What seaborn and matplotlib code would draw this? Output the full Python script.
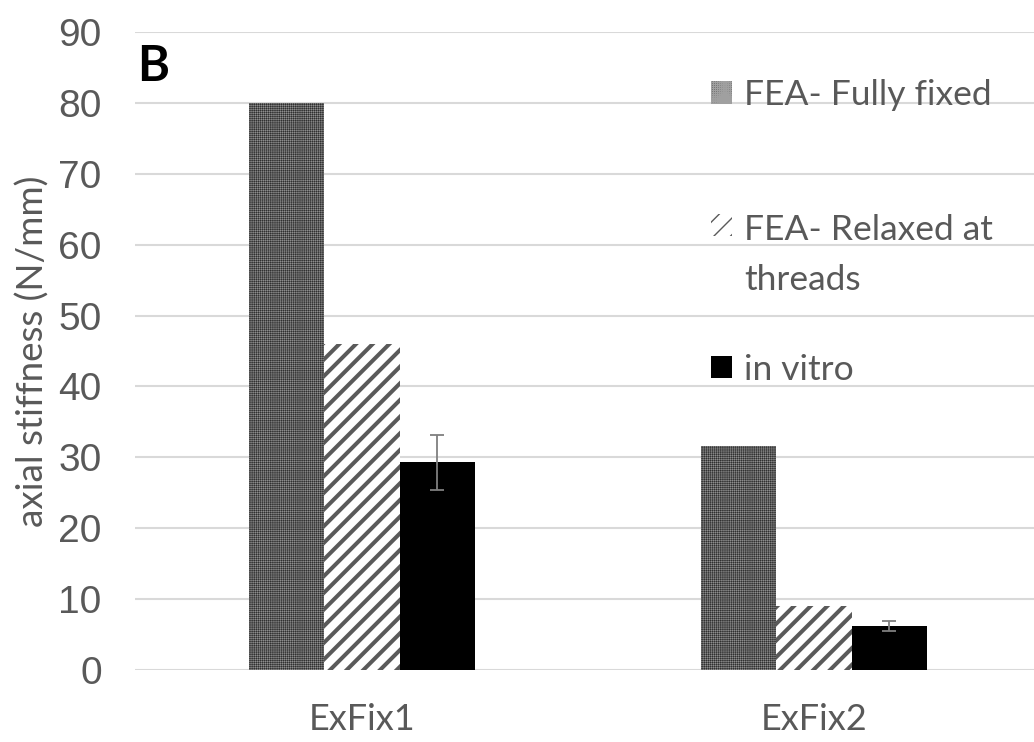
import matplotlib
matplotlib.use("Agg")
import matplotlib.pyplot as plt
import seaborn as sns
import pandas as pd

# Axial stiffness of two external fixator configurations
fixators = ["ExFix1", "ExFix2"]
models = ["FEA- Fully fixed", "FEA- Relaxed at\nthreads", "in vitro"]
fully_fixed = [80.0, 31.6]
relaxed = [46.0, 9.0]
in_vitro = [29.3, 6.2]
in_vitro_sd = [3.9, 0.7]

sns.set_theme(style="white")
plt.rcParams["font.family"] = ["Lato", "DejaVu Sans"]

rows = []
for model, vals in zip(models, [fully_fixed, relaxed, in_vitro]):
    for fx, v in zip(fixators, vals):
        rows.append({"fixator": fx, "model": model, "stiffness": v})
df = pd.DataFrame(rows)

fig = plt.figure(figsize=(10.34, 7.42), dpi=100)
ax = fig.add_axes([0.1306, 0.097, 0.8694, 0.8599])

face = {models[0]: "#303030", models[1]: "white", models[2]: "black"}
sns.barplot(data=df, x="fixator", y="stiffness", hue="model", order=fixators,
            hue_order=models, palette=face, width=0.5, errorbar=None,
            saturation=1, legend=False, ax=ax)

bar_containers = list(ax.containers)
styles = [("++++++++", "#a0a0a0", 0.3), ("//", "#5a5a5a", 2.9), ("", "black", 0.0)]
for cont, (hatch, hcol, hlw) in zip(bar_containers, styles):
    for p in cont.patches:
        p.set_hatch(hatch)
        p.set_edgecolor(hcol)
        p.set_linewidth(0)
        if hasattr(p, "set_hatch_linewidth"):
            p.set_hatch_linewidth(hlw)

# Measured standard deviation on the in vitro bars
xs = [p.get_x() + p.get_width() / 2 for p in bar_containers[2].patches]
hs = [p.get_height() for p in bar_containers[2].patches]
ax.errorbar(xs, hs, yerr=in_vitro_sd, fmt="none", ecolor="#7f7f7f",
            elinewidth=1.3, capsize=5, capthick=1.3, zorder=5)

ax.set_ylim(0, 90)
ax.set_xlim(-0.502, 1.487)
ax.set_yticks(range(0, 91, 10))
ax.yaxis.grid(True, color="#d9d9d9", linewidth=1.5)
ax.set_axisbelow(True)
for s in ax.spines.values():
    s.set_visible(False)
ax.tick_params(axis="y", length=0, pad=24, labelsize=28, labelcolor="#595959")
ax.tick_params(axis="x", length=0, pad=24, labelsize=26, labelcolor="#595959")
for t in ax.get_yticklabels():
    t.set_family("Liberation Sans")
ax.set_xlabel("")
ax.set_ylabel("axial stiffness (N/mm)", fontsize=26.5, color="#595959", labelpad=6)

ax.text(0.002, 0.981, "B", transform=ax.transAxes, fontsize=35,
        fontweight="bold", color="black", va="top", ha="left")

# Legend: first entry on its own, the other two stacked below it
handles = [c.patches[0] for c in bar_containers]
leg_kw = dict(loc="upper left", frameon=False, bbox_transform=fig.transFigure,
              fontsize=25.5, labelcolor="#595959", handlelength=0.6,
              handleheight=0.6, handletextpad=0.34, borderpad=0,
              borderaxespad=0)
leg1 = ax.legend(handles[:1], models[:1],
                 bbox_to_anchor=(711 / 1034, 1 - 79 / 742), **leg_kw)
ax.add_artist(leg1)
leg2 = ax.legend(handles[1:], models[1:], labelspacing=1.62,
                 bbox_to_anchor=(711 / 1034, 1 - 214 / 742), **leg_kw)
for t in leg2.get_texts():
    t.set_linespacing(1.7)
try:
    first_row = leg2._legend_handle_box.get_children()[0].get_children()[0]
    first_row.align = "top"
except Exception:
    pass

fig.savefig("out.png", dpi=100)
